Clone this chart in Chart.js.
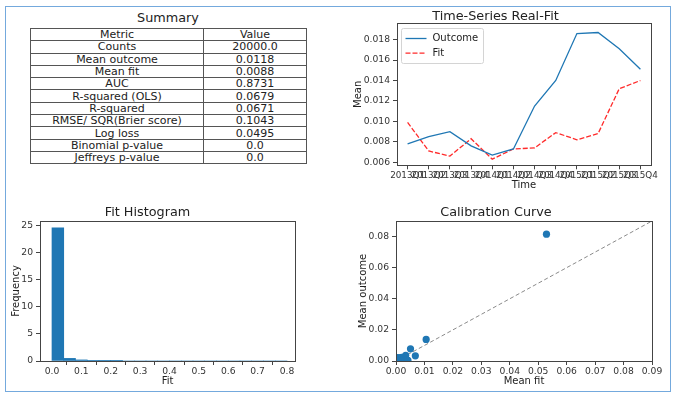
<!DOCTYPE html>
<html>
<head>
<meta charset="utf-8">
<script src="https://cdn.jsdelivr.net/npm/chart.js@4.4.0/dist/chart.umd.min.js"></script>
<style>
    html, body { margin: 0; padding: 0; background: #fff; }
    body { width: 677px; height: 399px; position: relative; overflow: hidden; font-family: 'DejaVu Sans', sans-serif; color: #222; }
    .frame { position: absolute; left: 5px; top: 6px; width: 664px; height: 384px; border: 1.5px solid #74a9dd; }
    .sum-title { position: absolute; left: 30px; top: 10px; width: 276px; text-align: center; font-size: 12.8px; line-height: 16px; }
    table.summary { position: absolute; left: 30px; top: 28px; width: 276px; border-collapse: collapse; table-layout: fixed; font-size: 11px; }
    table.summary td { border: 1px solid #555; padding: 0; height: 11.3px; line-height: 11px; text-align: center; white-space: nowrap; overflow: hidden; }
    canvas { position: absolute; }
</style>
</head>
<body>
<div class="frame"></div>
<div class="sum-title">Summary</div>
<table class="summary" id="summaryTable"></table>
<canvas id="tsChart" width="330" height="200" style="left:340px;top:0px;width:330px;height:200px"></canvas>
<canvas id="histChart" width="340" height="200" style="left:0px;top:195px;width:340px;height:200px"></canvas>
<canvas id="calChart" width="330" height="200" style="left:340px;top:195px;width:330px;height:200px"></canvas>
<script>
// summary table
const metricNames = ['Counts', 'Mean outcome', 'Mean fit', 'AUC', 'R-squared (OLS)', 'R-squared',
    'RMSE/ SQR(Brier score)', 'Log loss', 'Binomial p-value', 'Jeffreys p-value'];
const metricValues = ['20000.0', '0.0118', '0.0088', '0.8731', '0.0679', '0.0671', '0.1043', '0.0495', '0.0', '0.0'];

// time series
const quarters = ['2013Q1', '2013Q2', '2013Q3', '2013Q4', '2014Q1', '2014Q2',
    '2014Q3', '2014Q4', '2015Q1', '2015Q2', '2015Q3', '2015Q4'];
const outcomeMean = [0.0078, 0.0085, 0.0090, 0.0076, 0.0067, 0.0073, 0.0115, 0.0140, 0.0186, 0.0187, 0.0171, 0.0151];
const fitMean = [0.0099, 0.0071, 0.0066, 0.0083, 0.0063, 0.0073, 0.0074, 0.0089, 0.0082, 0.0088, 0.0132, 0.0140];
const tsTicks = [0.006, 0.008, 0.010, 0.012, 0.014, 0.016, 0.018];

// histogram (density, 20 bins)
const histCenters = [0.02, 0.06, 0.10, 0.14, 0.18, 0.22, 0.26, 0.30, 0.34, 0.38,
    0.42, 0.46, 0.50, 0.54, 0.58, 0.62, 0.66, 0.70, 0.74, 0.78];
const histDensity = [24.6, 0.48, 0.20, 0.06, 0.03, 0.01, 0, 0, 0, 0,
    0, 0, 0, 0, 0, 0, 0, 0, 0, 0];
const histXTicks = [0, 0.1, 0.2, 0.3, 0.4, 0.5, 0.6, 0.7, 0.8];
const histYTicks = [0, 5, 10, 15, 20, 25];

// calibration
const calFit = [0.0005, 0.0010, 0.0015, 0.0020, 0.0026, 0.0030, 0.0034, 0.0038, 0.0042, 0.0051, 0.0068, 0.0106, 0.0529];
const calOutcome = [0.0022, 0.0018, 0.0020, 0.0024, 0.0012, 0.0016, 0.0037, 0.0008, 0.0004, 0.0078, 0.0033, 0.0139, 0.0815];
const calDiag = [0, 0.09];
const calXTicks = [0, 0.01, 0.02, 0.03, 0.04, 0.05, 0.06, 0.07, 0.08, 0.09];
const calYTicks = [0, 0.02, 0.04, 0.06, 0.08];

const BLUE = '#1f77b4';
const TICK_FONT = { size: 9.2 };
const LABEL_FONT = { size: 10 };

Chart.defaults.font.family = "'DejaVu Sans', sans-serif";
Chart.defaults.color = '#333';
Chart.defaults.animation = false;

const axesBox = {
    id: 'axesBox',
    afterDatasetsDraw(chart) {
        const a = chart.chartArea;
        const ctx = chart.ctx;
        ctx.save();
        ctx.strokeStyle = '#444';
        ctx.lineWidth = 1;
        ctx.strokeRect(Math.round(a.left) + 0.5, Math.round(a.top) + 0.5,
            Math.round(a.right - a.left), Math.round(a.bottom - a.top));
        ctx.restore();
    }
};

const boxLegend = {
    id: 'boxLegend',
    afterDraw(chart) {
        const a = chart.chartArea;
        const ctx = chart.ctx;
        const x = Math.round(a.left) + 4.5, y = Math.round(a.top) + 5.5;
        ctx.save();
        ctx.fillStyle = 'rgba(255,255,255,0.85)';
        ctx.strokeStyle = '#d4d4d4';
        ctx.lineWidth = 1;
        ctx.beginPath();
        ctx.roundRect(x, y, 82, 35, 2);
        ctx.fill();
        ctx.stroke();
        chart.data.datasets.forEach((ds, i) => {
            const cy = y + 10 + i * 14.7;
            ctx.strokeStyle = ds.borderColor;
            ctx.lineWidth = ds.borderWidth;
            ctx.setLineDash(ds.borderDash || []);
            ctx.beginPath();
            ctx.moveTo(x + 4, cy);
            ctx.lineTo(x + 25, cy);
            ctx.stroke();
            ctx.setLineDash([]);
            ctx.fillStyle = '#222';
            ctx.font = "10px 'DejaVu Sans'";
            ctx.textBaseline = 'middle';
            ctx.fillText(ds.label, x + 31, cy);
        });
        ctx.restore();
    }
};

function axisGrid() {
    return { drawOnChartArea: false, drawTicks: true, tickLength: 4, color: '#444' };
}

function fixedTicks(list) {
    return function (scale) {
        scale.ticks = list.map(v => ({ value: v }));
    };
}

function buildTable() {
    const table = document.getElementById('summaryTable');
    let html = '<colgroup><col style="width:173px"><col style="width:103px"></colgroup>';
    html += '<tr><td>Metric</td><td>Value</td></tr>';
    metricNames.forEach((name, i) => {
        html += '<tr><td>' + name + '</td><td>' + metricValues[i] + '</td></tr>';
    });
    table.innerHTML = html;
}

function initTimeSeries() {
    new Chart(document.getElementById('tsChart'), {
        type: 'line',
        data: {
            labels: quarters,
            datasets: [
                { label: 'Outcome', data: outcomeMean, borderColor: BLUE, borderWidth: 1.3, pointRadius: 0, tension: 0 },
                { label: 'Fit', data: fitMean, borderColor: '#ff2a2a', borderWidth: 1.3, borderDash: [5, 2], pointRadius: 0, tension: 0 }
            ]
        },
        options: {
            responsive: false,
            devicePixelRatio: 1,
            layout: { padding: { left: 0, right: 19, top: 0, bottom: 0 } },
            plugins: {
                legend: { display: false },
                tooltip: { enabled: false },
                title: { display: true, text: 'Time-Series Real-Fit', color: '#222',
                    font: { size: 12.8, weight: 'normal', lineHeight: 1 }, padding: { top: 10.5, bottom: 0 } }
            },
            scales: {
                x: {
                    type: 'category', offset: true,
                    grid: Object.assign(axisGrid(), { offset: false }), border: { display: false },
                    ticks: { autoSkip: false, maxRotation: 0, minRotation: 0, padding: 1, font: { size: 8.8 }, color: '#333' },
                    title: { display: true, text: 'Time', font: LABEL_FONT, color: '#222', padding: { top: 0, bottom: 9 } },
                    afterFit: s => { s.height = 34.7; }
                },
                y: {
                    min: 0.0057, max: 0.0196,
                    grid: axisGrid(), border: { display: false },
                    afterBuildTicks: fixedTicks(tsTicks),
                    ticks: { padding: 3, font: TICK_FONT, color: '#333', callback: v => v.toFixed(3) },
                    title: { display: true, text: 'Mean', font: LABEL_FONT, color: '#222', padding: { top: 12, bottom: 0 } },
                    afterFit: s => { s.width = 57; }
                }
            }
        },
        plugins: [axesBox, boxLegend]
    });
}

function initHistogram() {
    new Chart(document.getElementById('histChart'), {
        type: 'bar',
        data: {
            datasets: [{
                label: 'Fit',
                data: histCenters.map((c, i) => ({ x: c, y: histDensity[i] })),
                backgroundColor: BLUE,
                borderWidth: 0,
                barPercentage: 1,
                categoryPercentage: 1
            }]
        },
        options: {
            responsive: false,
            devicePixelRatio: 1,
            layout: { padding: { left: 0, right: 45, top: 0, bottom: 0 } },
            plugins: {
                legend: { display: false },
                tooltip: { enabled: false },
                title: { display: true, text: 'Fit Histogram', color: '#222',
                    font: { size: 12.8, weight: 'normal', lineHeight: 1 }, padding: { top: 10.8, bottom: 2.4 } }
            },
            scales: {
                x: {
                    type: 'linear', min: -0.0408, max: 0.8272, offset: false,
                    grid: axisGrid(), border: { display: false },
                    afterBuildTicks: fixedTicks(histXTicks),
                    ticks: { maxRotation: 0, padding: 1, font: TICK_FONT, color: '#333', callback: v => v.toFixed(1) },
                    title: { display: true, text: 'Fit', font: LABEL_FONT, color: '#222', padding: { top: 0, bottom: 7.5 } },
                    afterFit: s => { s.height = 34; }
                },
                y: {
                    min: 0, max: 25.85,
                    grid: axisGrid(), border: { display: false },
                    afterBuildTicks: fixedTicks(histYTicks),
                    ticks: { padding: 3, font: TICK_FONT, color: '#333' },
                    title: { display: true, text: 'Frequency', font: LABEL_FONT, color: '#222', padding: { top: 10, bottom: 0 } },
                    afterFit: s => { s.width = 40; }
                }
            }
        },
        plugins: [axesBox]
    });
}

function initCalibration() {
    new Chart(document.getElementById('calChart'), {
        type: 'scatter',
        data: {
            datasets: [
                {
                    label: 'bins',
                    data: calFit.map((f, i) => ({ x: f, y: calOutcome[i] })),
                    backgroundColor: BLUE, borderWidth: 0, pointRadius: 3.6
                },
                {
                    type: 'line', label: 'ideal',
                    data: calDiag.map(v => ({ x: v, y: v })),
                    borderColor: '#8a8a8a', borderWidth: 1, borderDash: [4, 2.5], pointRadius: 0
                }
            ]
        },
        options: {
            responsive: false,
            devicePixelRatio: 1,
            layout: { padding: { left: 0, right: 18, top: 0, bottom: 0 } },
            plugins: {
                legend: { display: false },
                tooltip: { enabled: false },
                title: { display: true, text: 'Calibration Curve', color: '#222',
                    font: { size: 12.8, weight: 'normal', lineHeight: 1 }, padding: { top: 10.8, bottom: 2.4 } }
            },
            scales: {
                x: {
                    type: 'linear', min: 0, max: 0.09,
                    grid: axisGrid(), border: { display: false },
                    afterBuildTicks: fixedTicks(calXTicks),
                    ticks: { maxRotation: 0, padding: 1, font: TICK_FONT, color: '#333', callback: v => v.toFixed(2) },
                    title: { display: true, text: 'Mean fit', font: LABEL_FONT, color: '#222', padding: { top: 0, bottom: 7.5 } },
                    afterFit: s => { s.height = 34; }
                },
                y: {
                    min: 0, max: 0.09,
                    grid: axisGrid(), border: { display: false },
                    afterBuildTicks: fixedTicks(calYTicks),
                    ticks: { padding: 3, font: TICK_FONT, color: '#333', callback: v => v.toFixed(2) },
                    title: { display: true, text: 'Mean outcome', font: LABEL_FONT, color: '#222', padding: { top: 17, bottom: 0 } },
                    afterFit: s => { s.width = 56; }
                }
            }
        },
        plugins: [axesBox]
    });
}

buildTable();
initTimeSeries();
initHistogram();
initCalibration();
</script>
</body>
</html>
